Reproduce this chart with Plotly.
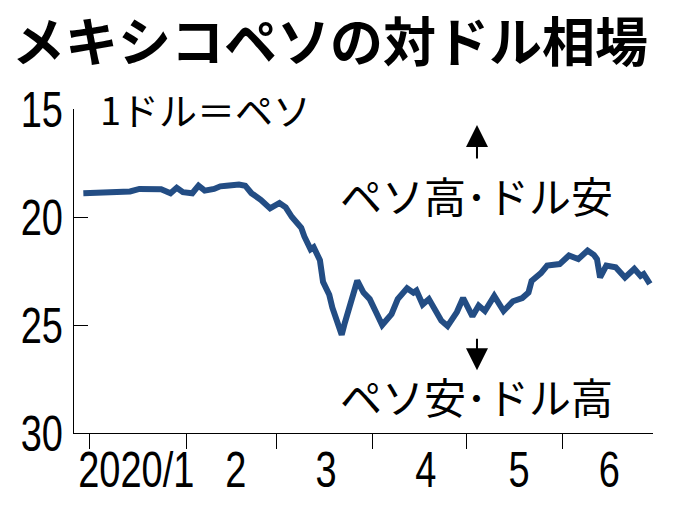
import plotly.graph_objects as go

# peso per dollar
dates = [
    "2019-12-30", "2020-01-03", "2020-01-07", "2020-01-10", "2020-01-14", "2020-01-17",
    "2020-01-21", "2020-01-24", "2020-01-27", "2020-01-29", "2020-01-31", "2020-02-03",
    "2020-02-05", "2020-02-07", "2020-02-10", "2020-02-12", "2020-02-14", "2020-02-18",
    "2020-02-20", "2020-02-22", "2020-02-25", "2020-02-28", "2020-03-02", "2020-03-04",
    "2020-03-06", "2020-03-09", "2020-03-10", "2020-03-12", "2020-03-13", "2020-03-15",
    "2020-03-16", "2020-03-18", "2020-03-19", "2020-03-20", "2020-03-22", "2020-03-23",
    "2020-03-25", "2020-03-27", "2020-03-29", "2020-03-31", "2020-04-02", "2020-04-04",
    "2020-04-07", "2020-04-09", "2020-04-12", "2020-04-14", "2020-04-15", "2020-04-17",
    "2020-04-19", "2020-04-21", "2020-04-23", "2020-04-25", "2020-04-28", "2020-04-30",
    "2020-05-03", "2020-05-05", "2020-05-07", "2020-05-10", "2020-05-13", "2020-05-16",
    "2020-05-19", "2020-05-21", "2020-05-22", "2020-05-25", "2020-05-27", "2020-05-31",
    "2020-06-03", "2020-06-06", "2020-06-09", "2020-06-11", "2020-06-12", "2020-06-13",
    "2020-06-15", "2020-06-18", "2020-06-21", "2020-06-24", "2020-06-26", "2020-06-27",
    "2020-06-29",
]
rates = [
    18.90, 18.88, 18.92, 18.85, 18.82, 18.70,
    18.75, 18.72, 18.90, 18.65, 18.85, 18.90,
    18.55, 18.78, 18.70, 18.58, 18.55, 18.50,
    18.55, 18.90, 19.20, 19.60, 19.35, 19.55,
    20.00, 20.50, 20.90, 21.50, 21.40, 22.00,
    23.00, 23.60, 24.20, 24.60, 25.45, 24.90,
    23.80, 22.95, 23.50, 23.80, 24.40, 25.00,
    24.50, 23.80, 23.30, 23.50, 23.40, 24.05,
    23.80, 24.30, 24.80, 25.05, 24.40, 23.75,
    24.60, 24.10, 24.35, 23.65, 24.35, 23.90,
    23.75, 23.50, 22.96, 22.60, 22.25, 22.18,
    21.78, 21.95, 21.55, 21.75, 21.95, 22.80,
    22.25, 22.33, 22.80, 22.40, 22.73, 22.64,
    23.10,
]

month_starts = ["2020-01-01", "2020-02-01", "2020-03-01", "2020-04-01", "2020-05-01", "2020-06-01"]
month_mids = ["2020-01-16", "2020-02-17", "2020-03-17", "2020-04-18", "2020-05-18", "2020-06-16"]
month_labels = ["2020/1", "2", "3", "4", "5", "6"]
y_ticks = [15, 20, 25, 30]

jp = "Noto Sans CJK JP"
num = "Liberation Sans, Arial, sans-serif"

fig = go.Figure()
fig.add_trace(go.Scatter(
    x=dates, y=rates, mode="lines",
    line=dict(color="#234d84", width=6),
    showlegend=False,
))

fig.update_layout(
    width=680, height=510,
    margin=dict(l=74, r=27, t=109, b=77),
    plot_bgcolor="white", paper_bgcolor="white",
    title=dict(
        text="<b>メキシコペソの対ドル相場</b>",
        font=dict(family=jp, size=53, color="black"),
        xref="container", x=0.0176, xanchor="left",
        yref="container", y=0.915, yanchor="middle",
    ),
)

fig.update_xaxes(
    type="date", range=["2019-12-27", "2020-06-30"], automargin=False,
    showline=True, linecolor="black", linewidth=1,
    showgrid=False, zeroline=False,
    tickmode="array", tickvals=month_mids, ticktext=month_labels,
    ticks="", ticklabelstandoff=-7,
    tickfont=dict(family=num, size=50, color="black"),
    minor=dict(tickmode="array", tickvals=month_starts, ticks="outside",
               ticklen=15, tickwidth=1, tickcolor="black"),
)
fig.update_yaxes(
    range=[30, 15], autorange=False, automargin=False,
    showline=True, linecolor="black", linewidth=1,
    showgrid=False, zeroline=False,
    tickmode="array", tickvals=y_ticks,
    ticks="inside", ticklen=14, tickwidth=1, tickcolor="black",
    tickfont=dict(family=num, size=50, color="black"),
)

fig.add_annotation(text="1ドル＝ペソ", xref="paper", yref="paper", x=0.041, y=1.003,
                   xanchor="left", yanchor="middle", showarrow=False,
                   font=dict(family=jp, size=38, color="black"))
fig.add_annotation(text="ペソ高･ドル安", xref="paper", yref="paper", x=0.695, y=0.735,
                   xanchor="center", yanchor="middle", showarrow=False,
                   font=dict(family=jp, size=42, color="black"))
fig.add_annotation(text="ペソ安･ドル高", xref="paper", yref="paper", x=0.695, y=0.117,
                   xanchor="center", yanchor="middle", showarrow=False,
                   font=dict(family=jp, size=42, color="black"))
# arrows
fig.add_annotation(text="", xref="paper", yref="paper", x=0.696, y=0.951, ax=0, ay=35,
                   showarrow=True, arrowhead=2, arrowsize=2.2, arrowwidth=2, arrowcolor="black")
fig.add_annotation(text="", xref="paper", yref="paper", x=0.696, y=0.194, ax=0, ay=-33,
                   showarrow=True, arrowhead=2, arrowsize=2.2, arrowwidth=2, arrowcolor="black")

# no body margin, and squeeze the tick numbers horizontally about their anchor
# (the original uses a narrow face that isn't installed here)
post = """
document.body.style.margin='0';
document.body.style.overflow='hidden';
document.querySelectorAll('.xtick text, .ytick text').forEach(function(t){
    var tr = t.getAttribute('transform') || '';
    var x = parseFloat(t.getAttribute('x')) || 0;
    t.setAttribute('transform', tr + ' translate(' + x + ',0) scale(0.76,1) translate(' + (-x) + ',0)');
});
"""
fig.write_html("out.html", post_script=post, config={"displayModeBar": False})
